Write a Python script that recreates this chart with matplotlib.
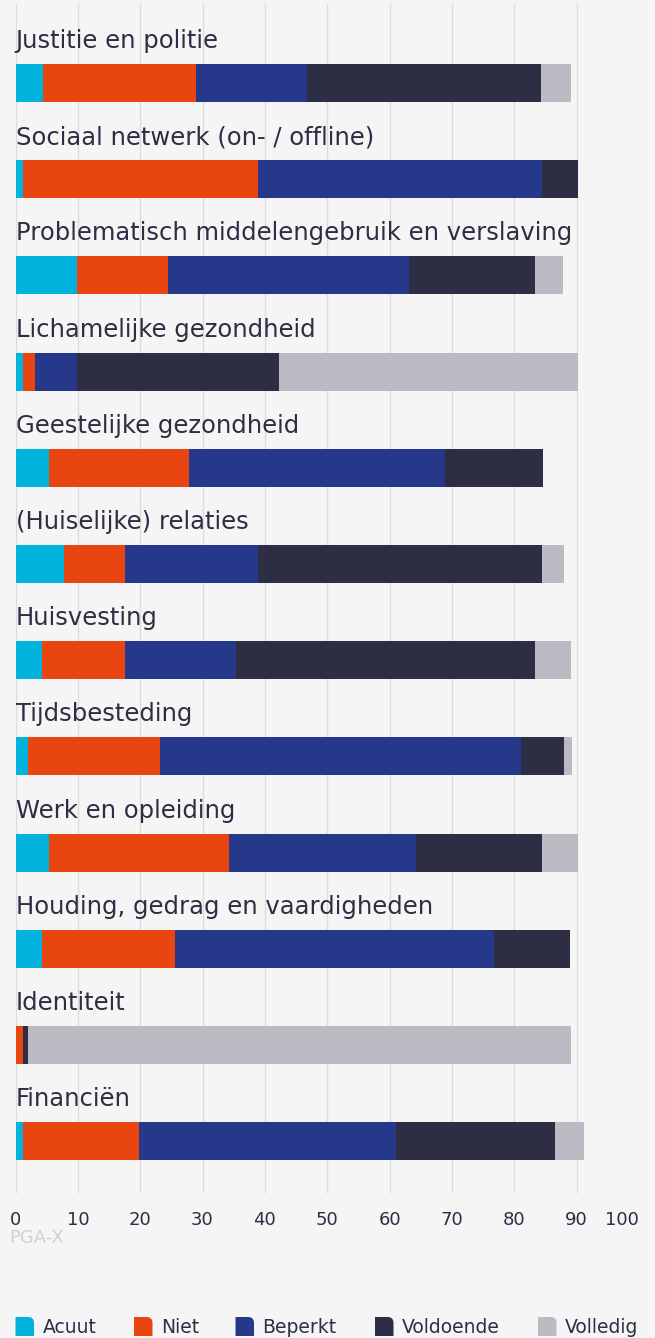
import matplotlib
matplotlib.use('Agg')
import matplotlib.pyplot as plt
from matplotlib.path import Path
from matplotlib.patches import PathPatch

categories = [
    "Justitie en politie",
    "Sociaal netwerk (on- / offline)",
    "Problematisch middelengebruik en verslaving",
    "Lichamelijke gezondheid",
    "Geestelijke gezondheid",
    "(Huiselijke) relaties",
    "Huisvesting",
    "Tijdsbesteding",
    "Werk en opleiding",
    "Houding, gedrag en vaardigheden",
    "Identiteit",
    "Financiën",
]
acuut = [4.35, 1.2, 9.85, 1.2, 5.36, 7.77, 4.3, 2.0, 5.36, 4.3, 0.0, 1.2]
niet = [24.6, 37.7, 14.6, 1.95, 22.4, 9.8, 13.3, 21.2, 28.9, 21.3, 1.2, 18.6]
beperkt = [17.8, 45.5, 38.6, 6.7, 41.1, 21.4, 17.8, 57.9, 30.0, 51.2, 0.0, 41.3]
voldoende = [37.6, 5.8, 20.2, 32.4, 15.7, 45.5, 47.9, 6.8, 20.2, 12.2, 0.8, 25.5]
volledig = [4.7, 0.0, 4.6, 47.9, 0.0, 3.5, 5.8, 1.3, 5.8, 0.0, 87.1, 4.6]

series_names = ["Acuut", "Niet", "Beperkt", "Voldoende", "Volledig"]
series = [acuut, niet, beperkt, voldoende, volledig]
colors = ["#00b2dc", "#e94510", "#25388a", "#2d2e43", "#bdbac4"]
xticks = [0, 10, 20, 30, 40, 50, 60, 70, 80, 90, 100]

BG = "#f4f5f4"
TXT = "#2d2e44"
W, H = 655, 1338
plt.rcParams['font.family'] = ['DejaVu Sans']

fig = plt.figure(figsize=(W / 100, H / 100), dpi=100)
fig.patch.set_facecolor(BG)

x0, x1 = 15.5, 639.0
ytop, ybot = 4.0, 1193.0
ax = fig.add_axes([x0 / W, 1 - ybot / H, (x1 - x0) / W, (ybot - ytop) / H])
ax.set_facecolor(BG)

c0 = 83.0
step = 96.2
ax.set_xlim(0, 100)
ax.set_ylim((ybot - c0) / step, -(c0 - ytop) / step)

ypos = list(range(len(categories)))
left = [0.0] * len(categories)
for vals, col in zip(series, colors):
    ax.barh(ypos, vals, left=left, height=38 / step, color=col, linewidth=0, zorder=3)
    left = [l + v for l, v in zip(left, vals)]

for i, cat in enumerate(categories):
    ax.text(0, i - 35 / step, cat, ha='left', va='baseline', fontsize=17.5,
            color=TXT, zorder=4)

ax.set_xticks(xticks)
ax.set_xticklabels([str(t) for t in xticks])
ax.set_yticks([])
ax.grid(axis='x', color='#dcdcdf', linewidth=1, zorder=0)
ax.tick_params(axis='x', length=0, pad=13, labelsize=13, labelcolor=TXT)
ax.get_xticklabels()[-1].set_horizontalalignment('right')
for s in ax.spines.values():
    s.set_visible(False)

fig.text(9 / W, 1 - 1238 / H, "PGA-X", ha='left', va='center', fontsize=13, color='#d0d0d6')

# legend
leg_x = [15.5, 134.0, 235.5, 375.0, 538.0]
msz = 18.5
mtop, mbot = 1317.0, 1336.0
r = 6.0
for lx, name, col in zip(leg_x, series_names, colors):
    pts = [(lx, mbot), (lx, mtop), (lx + msz - r, mtop), (lx + msz, mtop),
           (lx + msz, mtop + r), (lx + msz, mbot), (lx, mbot)]
    codes = [Path.MOVETO, Path.LINETO, Path.LINETO, Path.CURVE3, Path.CURVE3,
             Path.LINETO, Path.CLOSEPOLY]
    fpts = [(px / W, 1 - py / H) for px, py in pts]
    fig.patches.append(PathPatch(Path(fpts, codes), facecolor=col, edgecolor='none',
                                 transform=fig.transFigure))
    fig.text((lx + msz + 8.5) / W, 1 - 1333 / H, name, ha='left', va='baseline',
             fontsize=13.5, color=TXT)

fig.savefig("out.png", dpi=100, facecolor=BG)
